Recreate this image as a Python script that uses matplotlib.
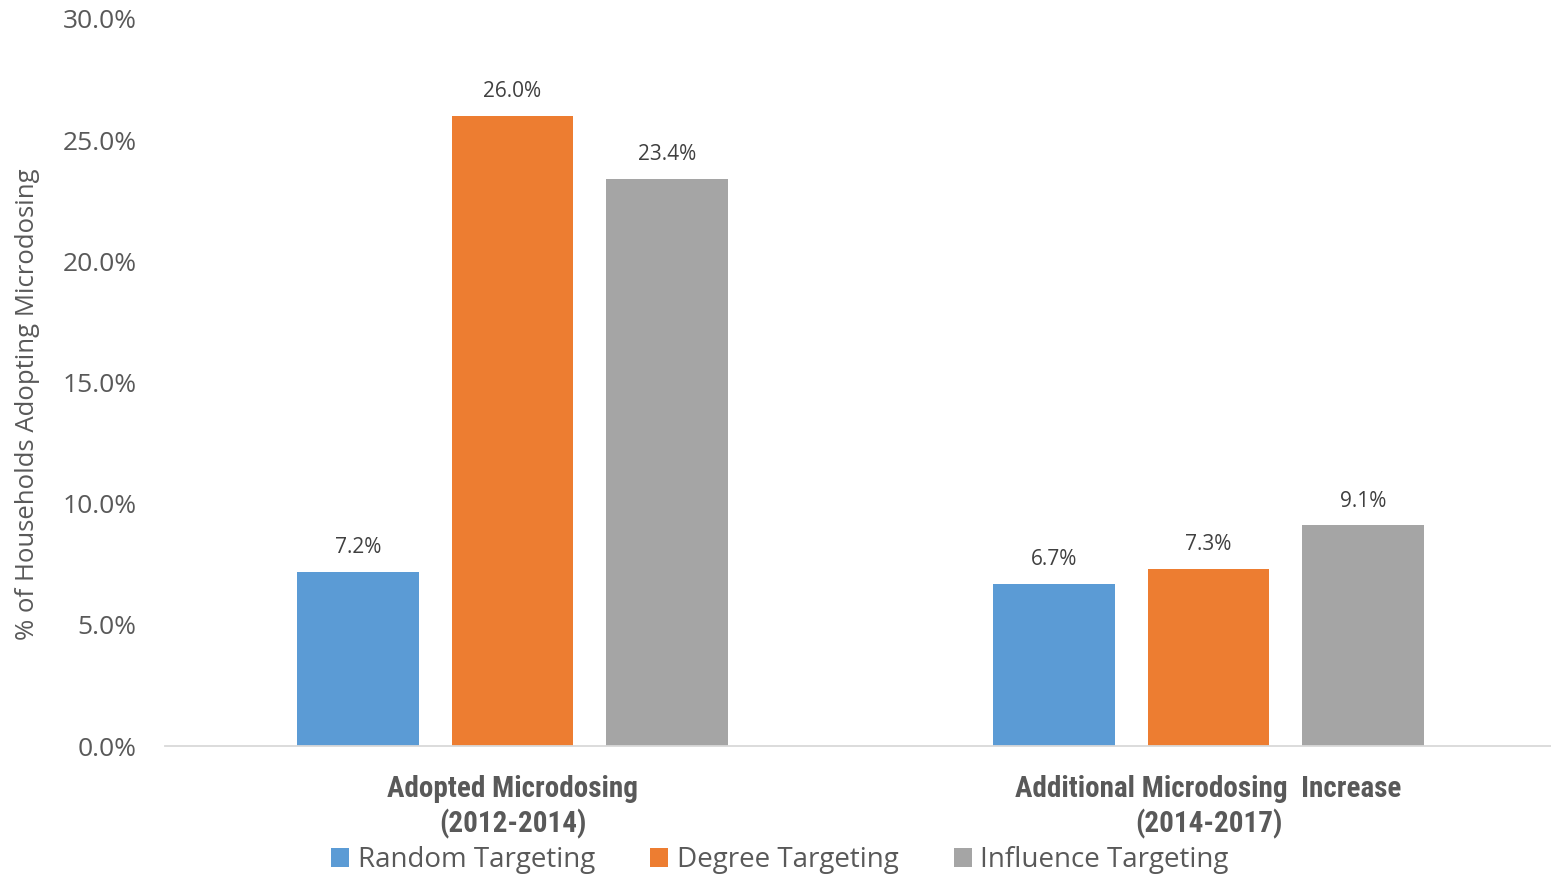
import matplotlib
matplotlib.use("Agg")
import matplotlib.pyplot as plt
from matplotlib.patches import Patch
from matplotlib.ticker import FuncFormatter
import numpy as np

categories = ["Adopted Microdosing\n(2012-2014)", "Additional Microdosing  Increase\n(2014-2017)"]
series_names = ["Random Targeting", "Degree Targeting", "Influence Targeting"]
random_vals = [7.2, 6.7]
degree_vals = [26.0, 7.3]
influence_vals = [23.4, 9.1]
colors = ["#5B9BD5", "#ED7D31", "#A5A5A5"]
yticks = [0, 5, 10, 15, 20, 25, 30]

text_color = "#595959"
base_font = ["Open Sans", "DejaVu Sans"]
cond_font = ["Liberation Sans Narrow", "Roboto Condensed", "Roboto", "DejaVu Sans"]

W, H = 1551, 877
fig = plt.figure(figsize=(W / 100, H / 100), dpi=100)
ax = fig.add_axes([164.5 / W, 131 / H, 1392 / W, 727 / H])

x = np.arange(len(categories))
pitch = 0.222
width = 0.174
all_series = [random_vals, degree_vals, influence_vals]
for i, (vals, col, name) in enumerate(zip(all_series, colors, series_names)):
    pos = x + (i - 1) * pitch
    bars = ax.bar(pos, vals, width=width, color=col, label=name, zorder=2)
    for b, v in zip(bars, vals):
        ax.annotate(f"{v:.1f}%", (b.get_x() + b.get_width() / 2, v),
                    xytext=(0, 10), textcoords="offset points",
                    ha="center", va="bottom", fontsize=15,
                    color="#404040", family=base_font)

ax.set_xlim(-0.5, 1.5)
ax.set_ylim(0, 30)
ax.set_yticks(yticks)
ax.yaxis.set_major_formatter(FuncFormatter(lambda v, p: f"{v:.1f}%"))
for lab in ax.get_yticklabels():
    lab.set_family(base_font)
ax.tick_params(axis="y", length=0, labelsize=19, labelcolor=text_color, pad=20)
ax.tick_params(axis="x", length=0)
ax.set_xticks(x)
ax.set_xticklabels([])
for xi, cat in zip(x, categories):
    ax.text(xi, -1.2, cat, ha="center", va="top", fontsize=21, fontweight="bold",
            color=text_color, family=cond_font, linespacing=1.25,
            transform=ax.transData)

for s in ["top", "right", "left"]:
    ax.spines[s].set_visible(False)
ax.spines["bottom"].set_color("#D9D9D9")
ax.spines["bottom"].set_linewidth(1.3)

fig.text(28 / W, (H - 404) / H, "% of Households Adopting Microdosing",
         rotation=90, ha="center", va="center", fontsize=18.5,
         color=text_color, family=base_font)

handles = [Patch(facecolor=c, edgecolor="none") for c in colors]
leg = fig.legend(handles, series_names, loc="center", bbox_to_anchor=(780 / W, (H - 860) / H),
                 ncol=3, frameon=False, handlelength=0.65, handleheight=0.65,
                 handletextpad=0.3, columnspacing=2.0,
                 prop={"family": base_font, "size": 20})
for t in leg.get_texts():
    t.set_color(text_color)

fig.savefig("out.png", dpi=100)
